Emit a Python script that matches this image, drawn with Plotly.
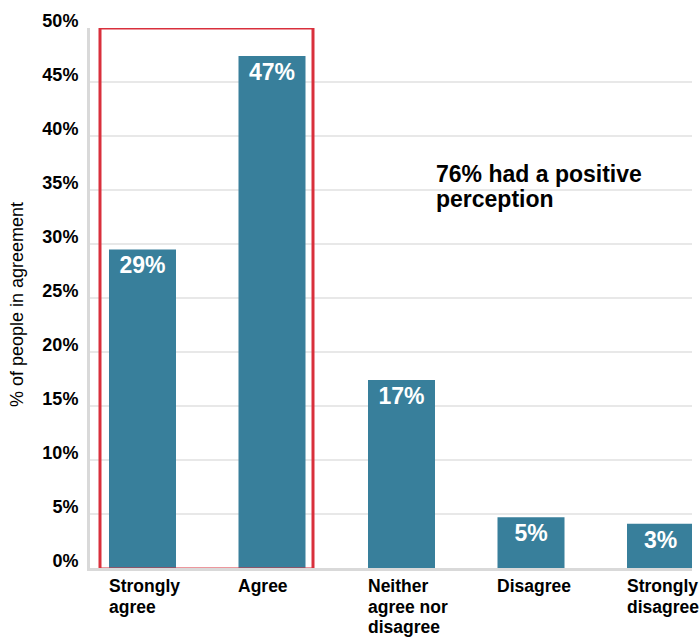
import plotly.graph_objects as go

categories = ["Strongly agree", "Agree", "Neither agree nor disagree", "Disagree", "Strongly disagree"]
tick_lines = [["Strongly", "agree"], ["Agree"], ["Neither", "agree nor", "disagree"], ["Disagree"], ["Strongly", "disagree"]]
values = [29.5, 47.4, 17.4, 4.7, 4.1]
value_labels = ["29%", "47%", "17%", "5%", "3%"]
y_ticks = [0, 5, 10, 15, 20, 25, 30, 35, 40, 45, 50]
callout_lines = ["76% had a positive", "perception"]
y_title = "% of people in agreement"

FONT = "Liberation Sans, Arial, sans-serif"
BAR = "#387f9b"

fig = go.Figure()
fig.add_trace(go.Bar(
    x=categories, y=values, text=value_labels,
    textposition="inside", insidetextanchor="end", textangle=0,
    constraintext="none",
    textfont=dict(family=FONT, size=23, color="white", weight="bold"),
    marker=dict(color=BAR, line=dict(width=0)),
    width=0.5174, hoverinfo="skip",
))

annotations = []
for i, lines in enumerate(tick_lines):
    for j, line in enumerate(lines):
        annotations.append(dict(
            x=categories[i], xref="x", y=0, yref="y",
            xanchor="left", yanchor="middle", xshift=-36, yshift=-18 - 20.5 * j,
            text=line, showarrow=False,
            font=dict(family=FONT, size=17.5, color="black", weight="bold"),
        ))
for j, line in enumerate(callout_lines):
    annotations.append(dict(
        x=0.572, xref="paper", y=(568 - 174 - 25 * j) / 540, yref="paper",
        xanchor="left", yanchor="middle",
        text=line, showarrow=False,
        font=dict(family=FONT, size=23, color="black", weight="bold"),
    ))
annotations.append(dict(
    x=0, xref="paper", y=0.487, yref="paper", xshift=-73,
    xanchor="center", yanchor="middle", textangle=-90,
    text=y_title, showarrow=False,
    font=dict(family=FONT, size=18, color="black"),
))

fig.update_layout(
    width=700, height=637,
    margin=dict(l=90, r=8, t=28, b=69),
    plot_bgcolor="white", paper_bgcolor="white",
    showlegend=False,
    annotations=annotations,
    xaxis=dict(
        range=[-0.4054, 4.2432], showticklabels=False, ticks="",
        showline=True, linecolor="#d9d9d9", linewidth=3, showgrid=False,
        fixedrange=True,
    ),
    yaxis=dict(
        range=[0, 50], tickvals=y_ticks, ticktext=[f"{t}%" for t in y_ticks],
        showgrid=True, gridcolor="#e8e8e8", gridwidth=1.5,
        showline=True, linecolor="#d9d9d9", linewidth=3,
        ticks="", ticklabelshift=-7, ticklabelstandoff=5,
        tickfont=dict(family=FONT, size=18, color="black", weight="bold"),
        zeroline=False, fixedrange=True,
    ),
    shapes=[dict(
        type="rect", xref="x", yref="y",
        x0=-0.3282, x1=1.3166, y0=-0.1, y1=50,
        line=dict(color="#d9303c", width=3), fillcolor="rgba(0,0,0,0)",
        layer="above",
    )],
)

fig.write_html(
    "out.html",
    config={"displayModeBar": False},
    post_script="document.body.style.margin='0';document.body.style.overflow='hidden';",
)
